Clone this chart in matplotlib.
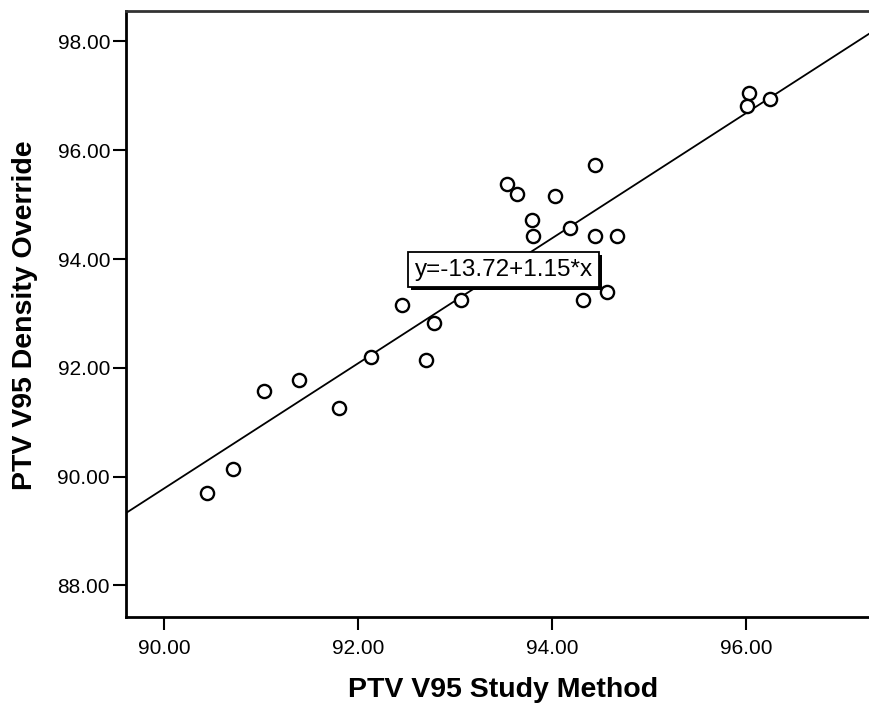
import matplotlib
matplotlib.use("Agg")
import matplotlib.pyplot as plt
import matplotlib.patheffects as pe
import numpy as np

plt.rcParams['font.family'] = ['Liberation Sans', 'DejaVu Sans']

# Data
study_method = [90.45, 90.71, 91.03, 91.39, 91.81, 92.14, 92.46, 92.79, 92.70, 93.06,
                93.54, 93.64, 93.80, 93.81, 94.45, 94.03, 94.19, 94.45, 94.67, 94.57,
                94.32, 96.03, 96.01, 96.25]
density_override = [89.70, 90.14, 91.57, 91.77, 91.26, 92.20, 93.15, 92.83, 92.15, 93.25,
                    95.38, 95.19, 94.72, 94.42, 95.72, 95.16, 94.57, 94.42, 94.43, 93.40,
                    93.25, 97.06, 96.81, 96.94]
fit_intercept = -13.72
fit_slope = 1.15
x_ticks = [90.0, 92.0, 94.0, 96.0]
y_ticks = [88.0, 90.0, 92.0, 94.0, 96.0, 98.0]
x_label = "PTV V95 Study Method"
y_label = "PTV V95 Density Override"
eq_text = "y=-13.72+1.15*x"

fig = plt.figure(figsize=(8.7, 7.09), dpi=100)
ax = fig.add_axes([126/870, 1-617/709, 744/870, 606/709])

xlim = (89.61, 97.28)
ylim = (87.42, 98.56)
ax.set_xlim(*xlim)
ax.set_ylim(*ylim)

# regression line
xl = np.array(xlim)
ax.plot(xl, fit_intercept + fit_slope * xl, color='black', lw=1.3, zorder=2)

# points
ax.scatter(study_method, density_override, s=90, facecolors='white',
           edgecolors='black', linewidths=1.7, zorder=3)

# equation box
t = ax.text(93.505, 93.80, eq_text, ha='center', va='center', fontsize=17.5,
            color='black', zorder=4,
            bbox=dict(boxstyle='square,pad=0.27', facecolor='white',
                      edgecolor='black', linewidth=1.3))
t.get_bbox_patch().set_path_effects([
    pe.SimplePatchShadow(offset=(1.8, -1.8), shadow_rgbFace='black', alpha=1.0),
    pe.Normal()])

ax.set_xticks(x_ticks)
ax.set_yticks(y_ticks)
ax.set_xticklabels([f"{v:.2f}" for v in x_ticks])
ax.set_yticklabels([f"{v:.2f}" for v in y_ticks])
ax.tick_params(axis='both', direction='out', length=9.5, width=1.5,
               labelsize=15, colors='black')
ax.tick_params(axis='y', pad=2)
ax.tick_params(axis='x', pad=6)

for side in ['left', 'bottom', 'top']:
    ax.spines[side].set_linewidth(2)
    ax.spines[side].set_color('black')
ax.spines['top'].set_color('#333333')
ax.spines['right'].set_visible(False)

ax.set_xlabel(x_label, fontsize=20.5, fontweight='bold')
ax.set_ylabel(y_label, fontsize=20.5, fontweight='bold')
ax.xaxis.set_label_coords((503-126)/744, -(690-617)/606)
ax.xaxis.label.set_va('center')
ax.yaxis.set_label_coords(-(126-25)/744, (617-315)/606)
ax.yaxis.label.set_va('center')

fig.savefig("out.png", dpi=100, facecolor='white')
